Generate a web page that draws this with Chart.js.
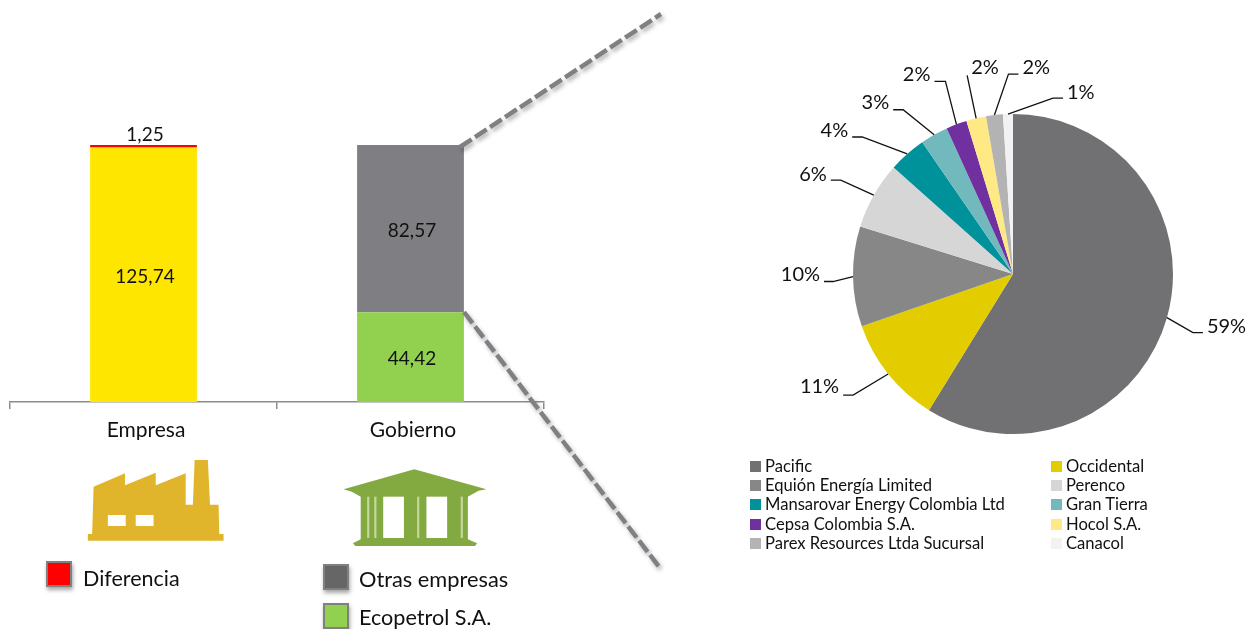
<!DOCTYPE html>
<html><head><meta charset="utf-8">
<script src="https://cdn.jsdelivr.net/npm/chart.js@4"></script>
<style>
html,body{margin:0;padding:0;background:#fff;width:1248px;height:629px;overflow:hidden;font-family:Lato,sans-serif;color:#111}
canvas,svg,.t,.sw{position:absolute}
.t{white-space:nowrap;line-height:1}
.sw{width:22px;height:22px;border:2px solid #808080;box-shadow:1px 3px 4px rgba(0,0,0,.35)}
.lg{font-size:16.6px}.ls{width:11px;height:11px;position:absolute}
</style></head><body>
<canvas id="bar" style="left:0;top:0" width="560" height="440"></canvas>
<canvas id="pie" style="left:700px;top:0" width="548" height="629"></canvas>
<svg style="left:0;top:0;filter:drop-shadow(2px 3px 2px rgba(0,0,0,.3))" width="1248" height="629">
 <g stroke="#808084" stroke-width="4.5" stroke-dasharray="14 4" fill="none">
  <line x1="460" y1="147" x2="661" y2="14"/>
  <line x1="464" y1="312" x2="660" y2="568"/>
 </g>
</svg>
<svg style="left:0;top:380" width="560" height="249" viewBox="0 0 1568 747" preserveAspectRatio="none">
 <path fill="#E0B52C" d="M246 482V462H258L262 320 350 280V316L436 278V316L520 280V374H540L545 240H582L588 374H612L614 462H626V482Z"/>
 <rect x="302" y="405" width="50" height="33" fill="#fff"/><rect x="380" y="405" width="50" height="33" fill="#fff"/>
 <path fill="#82AA41" d="M962 328L1160 268 1362 328 1340 332 1310 350V478L1336 490 1330 498H995L988 490 1010 478V350L985 335Z"/>
 <rect x="1073" y="350" width="58" height="124" fill="#fff"/><rect x="1194" y="350" width="58" height="124" fill="#fff"/>
 <g fill="#C5D8A0"><rect x="1028" y="350" width="6" height="124"/><rect x="1048" y="350" width="6" height="124"/><rect x="1168" y="350" width="6" height="124"/><rect x="1290" y="350" width="6" height="124"/></g>
</svg>
<div class="sw" style="left:46px;top:561px;background:#FF0000"></div>
<div class="sw" style="left:323px;top:564px;background:#666666"></div>
<div class="sw" style="left:323px;top:603px;background:#92D050"></div>
<div class="t" style="left:83px;top:568px;font-size:21.5px">Diferencia</div>
<div class="t" style="left:359px;top:568px;font-size:21.8px">Otras empresas</div>
<div class="t" style="left:359px;top:607px;font-size:21.6px">Ecopetrol S.A.</div>
<div id="legend"></div>
<script>
const barCategories = ['Empresa', 'Gobierno'];
const barLower = [125.74, 44.42];
const barUpper = [1.25, 82.57];
const barLowerColors = ['#FFE600', '#92D050'];
const barUpperColors = ['#FF0000', '#7F7F83'];

const pieNames = ['Pacific','Occidental','Equión Energía Limited','Perenco','Mansarovar Energy Colombia Ltd','Gran Tierra','Cepsa Colombia S.A.','Hocol S.A.','Parex Resources Ltda Sucursal','Canacol'];
const pieValues = [58.8, 10.9, 10.1, 6.8, 3.8, 2.8, 2.1, 2.0, 1.7, 1.0];
const pieLabels = ['59%','11%','10%','6%','4%','3%','2%','2%','2%','1%'];
const pieColors = ['#717073','#E3CC00','#878787','#D6D6D6','#00929B','#72B9BD','#7030A0','#FFE985','#B3B3B3','#F2F2F2'];

// leader geometry relative to each slice's outer-edge midpoint: elbow dx, dy, stub dx, text dy
const leaders = [[26,15,10,-6],[-35,21,-10,-8],[-20,5,-9,-7],[-33,-15,-10,-6],[-45,-17,-10,-6],[-31,-25,-10,-7],[-11,-43,-11,-7],[-9,-43,0,-8],[14,-41,10,-7],[45,-16,10,-6]];
// text side relative to the stub end; -1 left, 1 right
const labelSide = [1,-1,-1,-1,-1,-1,-1,1,1,1];
const FONT = 'Lato, sans-serif';

const barText = {
  id:'barText',
  afterDatasetsDraw(c){
    const x=c.ctx; x.save(); x.fillStyle='#111'; x.textAlign='center'; x.textBaseline='middle'; x.font='19px '+FONT;
    c.data.datasets.forEach((d,i)=>c.getDatasetMeta(i).data.forEach((b,j)=>{
      const txt=String(d.data[j]).replace('.',',');
      const small=Math.abs(b.base-b.y)<12;
      x.fillText(txt,b.x+1.5,small?b.y-10:(b.y+b.base)/2+2);
    }));
    x.restore();
  }
};
new Chart(document.getElementById('bar'),{
  type:'bar',
  data:{labels:barCategories,datasets:[
    {data:barLower,backgroundColor:barLowerColors,barPercentage:.8,categoryPercentage:.5},
    {data:barUpper,backgroundColor:barUpperColors,barPercentage:.8,categoryPercentage:.5}]},
  options:{responsive:false,animation:false,
    layout:{padding:{left:10,right:16,top:139,bottom:0}},
    plugins:{legend:{display:false},tooltip:{enabled:false}},
    scales:{
      y:{display:false,stacked:true,min:0,max:130},
      x:{stacked:true,offset:true,afterFit(s){s.height=38},
        border:{color:'#8c8c8c',width:1.5},
        grid:{offset:true,drawOnChartArea:false,drawTicks:true,tickLength:7,color:'#8c8c8c',lineWidth:1.5},
        ticks:{color:'#111',font:{family:FONT,size:21},padding:9,maxRotation:0,labelOffset:2.5}}
    }
  },
  plugins:[barText]
});

const pieText = {
  id:'pieText',
  afterDatasetsDraw(c){
    const x=c.ctx; x.save(); x.strokeStyle='#111'; x.lineWidth=1.3; x.fillStyle='#111'; x.font='20px '+FONT; x.textBaseline='middle'; x.textAlign='left';
    c.getDatasetMeta(0).data.forEach((a,i)=>{
      const mid=(a.startAngle+a.endAngle)/2, sx=a.x+Math.cos(mid)*a.outerRadius, sy=a.y+Math.sin(mid)*a.outerRadius;
      const [ex,ey,st,ty]=leaders[i];
      x.beginPath(); x.moveTo(sx,sy); x.lineTo(sx+ex,sy+ey); x.lineTo(sx+ex+st,sy+ey); x.stroke();
      const w=x.measureText(pieLabels[i]).width, ax=sx+ex+st, ay=sy+ey;
      x.fillText(pieLabels[i],(labelSide[i]<0?ax-w-4:ax+4),ay+ty);
    });
    x.restore();
  }
};
new Chart(document.getElementById('pie'),{
  type:'pie',
  data:{labels:pieNames,datasets:[{data:pieValues,backgroundColor:pieColors,borderWidth:0}]},
  options:{responsive:false,animation:false,
    layout:{padding:{left:153,right:75,top:114,bottom:195}},
    plugins:{legend:{display:false},tooltip:{enabled:false}}},
  plugins:[pieText]
});

const lg=document.getElementById('legend');
pieNames.forEach((n,i)=>{
  const col=i%2, row=Math.floor(i/2), left=col?1051:750, top=459.5+row*19.4;
  lg.insertAdjacentHTML('beforeend',`<div class="ls" style="left:${left}px;top:${top+1}px;background:${pieColors[i]}"></div><div class="t lg" style="left:${left+15}px;top:${top-2}px">${n}</div>`);
});
</script>
</body></html>
